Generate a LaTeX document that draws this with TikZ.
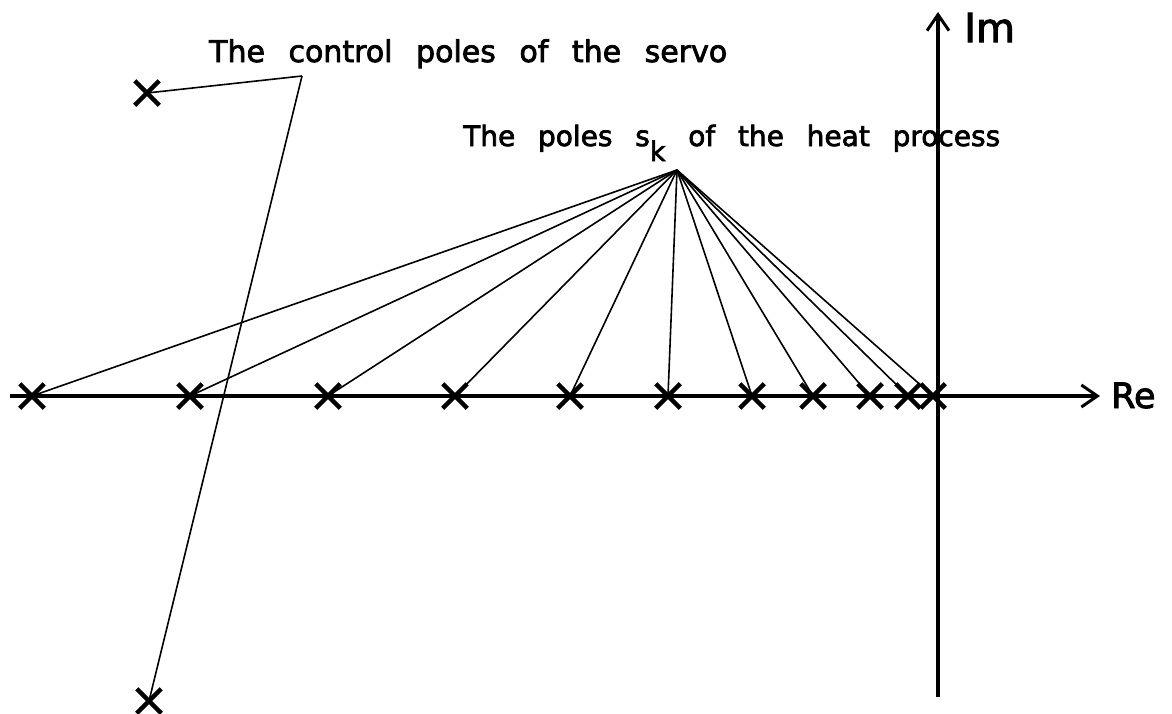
\documentclass[tikz,border=0pt]{standalone}
\usepackage{fontspec}
\setmainfont{DejaVu Sans}[BoldFont=DejaVu Sans,BoldFeatures={FakeBold=2.5}]
\usetikzlibrary{arrows.meta,shapes.misc}
\begin{document}
\begin{tikzpicture}[x=1pt,y=-1pt,
  pole/.style={cross out,draw,minimum size=20pt,inner sep=0pt,line width=4.5pt},
  axis/.style={line width=3.5pt,-{Straight Barb[length=16pt,width=22pt,line width=3pt]}},
  conn/.style={line width=1.6pt},
  lbl/.style={inner sep=0pt,anchor=base west}]
\useasboundingbox (0,0) rectangle (1172,713);
% axes
\coordinate (reS) at (10,396);
\coordinate (reE) at (1100,396);
\coordinate (imS) at (938,697);
\coordinate (imE) at (938,12);
\draw[axis] (reS) -- (reE);
\draw[axis] (imS) -- (imE);
\node[lbl,font=\fontsize{40}{40}\selectfont\bfseries] (im) at (964,42) {Im};
\node[lbl,font=\fontsize{35}{35}\selectfont\bfseries] (re) at (1111,408) {Re};
% heat process poles
\foreach \i/\x in {1/32,2/190,3/328,4/455,5/570,6/668,7/752,8/813,9/870,10/908,11/933}{
  \node[pole] (p\i) at (\x,396) {};
}
\coordinate (hc) at (677,170);
\foreach \i in {1,...,11}{
  \draw[conn] (hc) -- (p\i.center);
}
\node[lbl,font=\fontsize{28}{28}\selectfont\bfseries] (hl) at (463,146)
  {\hbox to 537pt{The\hfill poles\hfill s\raisebox{-15pt}{\fontsize{27}{27}\selectfont\bfseries k}\hfill of\hfill the\hfill heat\hfill process}};
% servo poles
\node[pole] (s1) at (147,93) {};
\node[pole] (s2) at (149,701) {};
\coordinate (sc) at (302,76);
\draw[conn] (sc) -- (s1.center);
\draw[conn] (sc) -- (s2.center);
\node[lbl,font=\fontsize{30}{30}\selectfont\bfseries] (sl) at (209,62)
  {\hbox to 518pt{The\hfill control\hfill poles\hfill of\hfill the\hfill servo}};
\end{tikzpicture}
\end{document}
